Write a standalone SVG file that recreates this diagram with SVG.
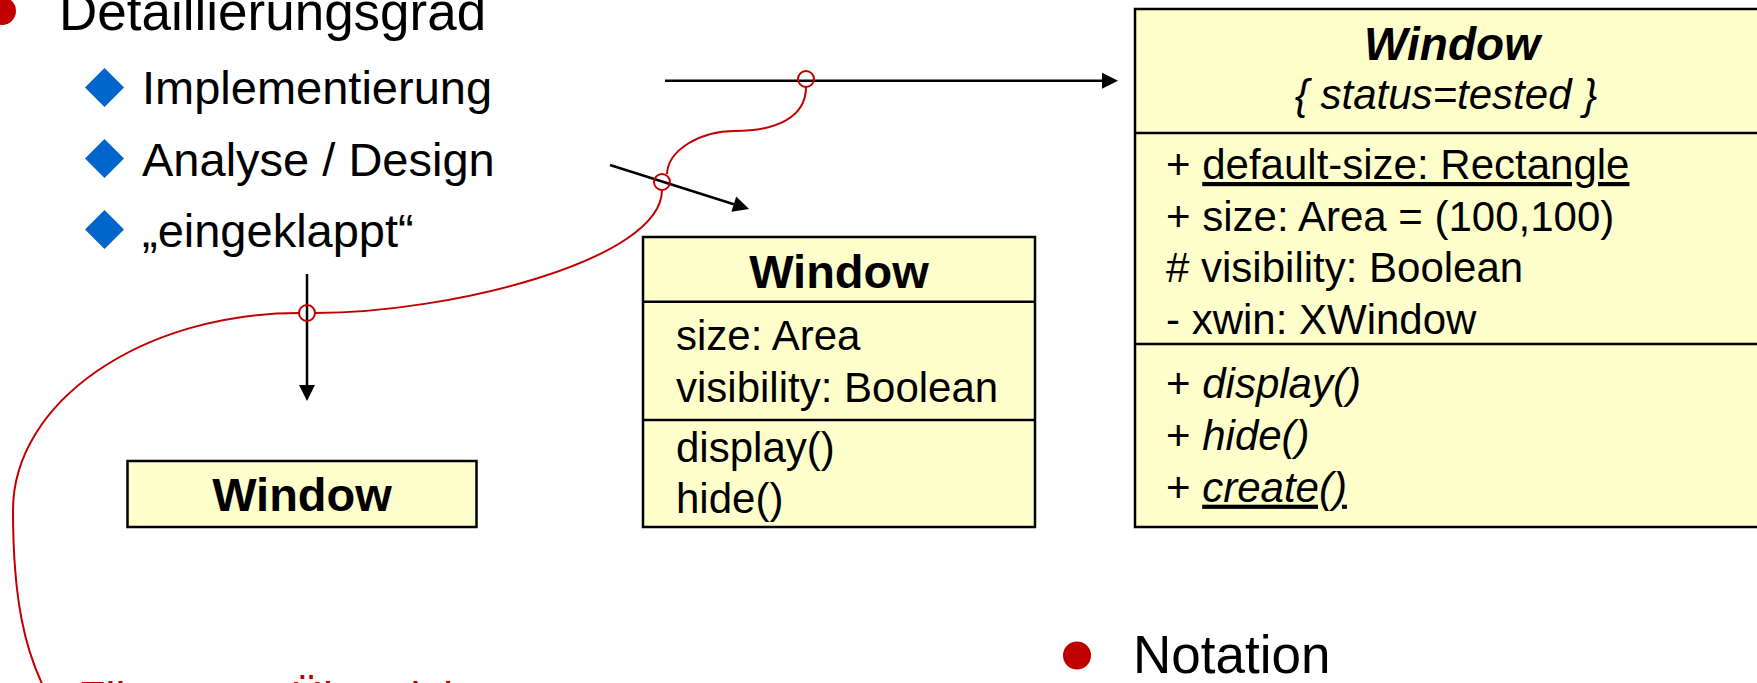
<svg xmlns="http://www.w3.org/2000/svg" width="1757" height="683" viewBox="0 0 1757 683">
<style>
text{font-family:"Liberation Sans",Arial,sans-serif;fill:#000}
.l1{font-size:53px}
.l2{font-size:47px}
.m{font-size:42px}
.b{font-weight:bold}
.i{font-style:italic}
.box{fill:#FFFFCC;stroke:#000;stroke-width:2.5}
.div{stroke:#000;stroke-width:2.5}
.dia{fill:#0066CC}
.bul{fill:#C00000}
.arr{stroke:#000;stroke-width:2.5;fill:none;marker-end:url(#ah)}
.red{stroke:#C00000;stroke-width:2;fill:none}
.u{text-decoration:underline}
</style>
<defs>
<marker id="ah" markerUnits="userSpaceOnUse" markerWidth="18" markerHeight="18" refX="0" refY="8" orient="auto" overflow="visible">
<path d="M0,0 L16,8 L0,16 Z" fill="#000"/>
</marker>
</defs>

<g id="bullets">
<circle class="bul" cx="2" cy="11" r="14"/>
<text class="l1" x="59" y="30">Detaillierungsgrad</text>
<polygon class="dia" points="104.5,68 124,87.5 104.5,107 85,87.5"/>
<text class="l2" x="142" y="104">Implementierung</text>
<polygon class="dia" points="104.5,139 124,158.5 104.5,178 85,158.5"/>
<text class="l2" x="142" y="176">Analyse / Design</text>
<polygon class="dia" points="104.5,210 124,229.5 104.5,249 85,229.5"/>
<text class="l2" x="142" y="247">„eingeklappt“</text>
<circle class="bul" cx="1077" cy="655.5" r="14"/>
<text class="l1" x="1133" y="673">Notation</text>
<text class="l1" x="78" y="713" style="fill:#C00000;font-size:45px">Filtern zur Übersicht</text>
</g>

<g id="connectors">
<line class="arr" x1="665" y1="80.7" x2="1102" y2="80.7"/>
<line class="arr" x1="610" y1="165" x2="733.8" y2="204.2"/>
<line class="arr" x1="307" y1="274" x2="307" y2="385"/>
<path class="red" d="M806,87 C806,118 775,131 735,131 C700,131 668,150 667,174"/>
<path class="red" d="M662,190 C662,260 450,313 315,313"/>
<path class="red" d="M299,313 C142,313 13,402 13,510 C13,600 25,650 45,690"/>
<circle class="red" cx="806" cy="79" r="8"/>
<circle class="red" cx="662" cy="182" r="8"/>
<circle class="red" cx="307" cy="313" r="8"/>
</g>

<g id="node-collapsed">
<rect class="box" x="127.5" y="461" width="349" height="66"/>
<text class="l2 b" x="302" y="511" text-anchor="middle">Window</text>
</g>

<g id="node-analysis">
<rect class="box" x="643" y="237" width="392" height="290"/>
<line class="div" x1="643" y1="301.7" x2="1035" y2="301.7"/>
<line class="div" x1="643" y1="420" x2="1035" y2="420"/>
<text class="l2 b" x="839" y="288" text-anchor="middle">Window</text>
<text class="m" x="676" y="350">size: Area</text>
<text class="m" x="676" y="401.7">visibility: Boolean</text>
<text class="m" x="676" y="461.7">display()</text>
<text class="m" x="676" y="513.3">hide()</text>
</g>

<g id="node-implementation">
<rect class="box" x="1135" y="9" width="640" height="518"/>
<line class="div" x1="1135" y1="133" x2="1775" y2="133"/>
<line class="div" x1="1135" y1="344" x2="1775" y2="344"/>
<text class="b i" x="1452" y="60" text-anchor="middle" style="font-size:46px">Window</text>
<text class="m i" x="1446" y="109" text-anchor="middle">{ status=tested }</text>
<text class="m" x="1166" y="179">+ <tspan class="u">default-size: Rectangle</tspan></text>
<text class="m" x="1166" y="230.5">+ size: Area = (100,100)</text>
<text class="m" x="1166" y="282">#  visibility: Boolean</text>
<text class="m" x="1166" y="333.5">- xwin: XWindow</text>
<text class="m" x="1166" y="398.3">+ <tspan class="i">display()</tspan></text>
<text class="m" x="1166" y="450">+ <tspan class="i">hide()</tspan></text>
<text class="m" x="1166" y="501.7">+ <tspan class="i u">create()</tspan></text>
</g>
</svg>
